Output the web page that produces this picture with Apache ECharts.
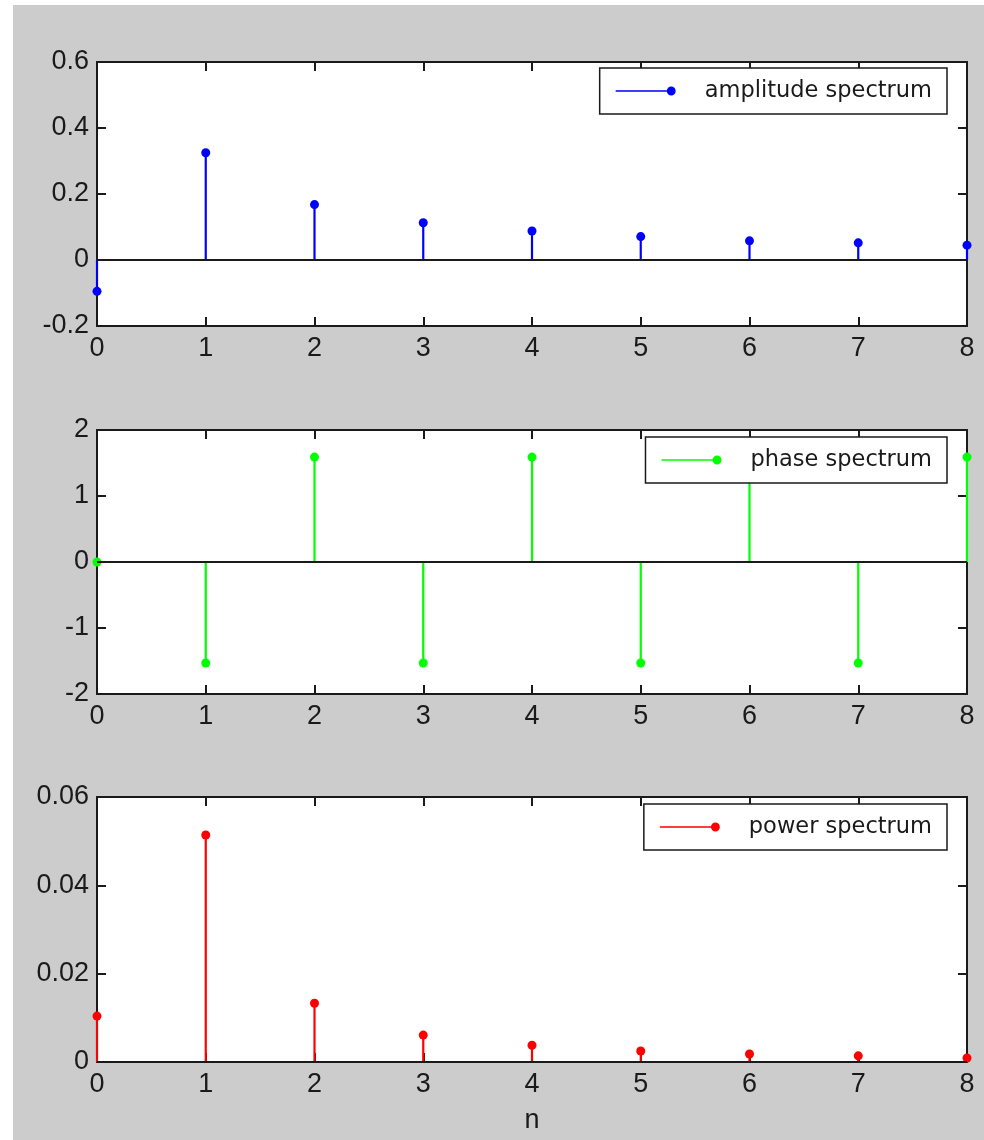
<!DOCTYPE html>
<html>
<head>
<meta charset="utf-8">
<title>amplitude / phase / power spectrum</title>
<script src="https://cdn.jsdelivr.net/npm/echarts@6/dist/echarts.min.js"></script>
<style>
  html, body { margin: 0; padding: 0; background: #fff; }
  #chart { position: absolute; left: 13px; top: 5px; width: 971px; height: 1135px; }
</style>
</head>
<body>
<div id="chart"></div>
<script>
// data
const n = [0, 1, 2, 3, 4, 5, 6, 7, 8];
const amplitude = [-0.095, 0.325, 0.168, 0.113, 0.088, 0.071, 0.058, 0.052, 0.045];
const phase = [0, -1.53, 1.59, -1.53, 1.59, -1.53, 1.59, -1.53, 1.59];
const power = [0.0104, 0.0514, 0.0133, 0.0061, 0.0038, 0.0025, 0.0018, 0.0014, 0.0009];

const panels = [
  { name: "amplitude spectrum", values: amplitude, color: "#0000ff", min: -0.2, max: 0.6, interval: 0.2 },
  { name: "phase spectrum", values: phase, color: "#00ff00", min: -2, max: 2, interval: 1 },
  { name: "power spectrum", values: power, color: "#ff0000", min: 0, max: 0.06, interval: 0.02 }
];

// layout (chart coords, the chart div sits 13px / 5px in from the page corner)
const grids = [
  { left: 84, top: 57, width: 870, height: 264 },
  { left: 84, top: 425, width: 870, height: 264 },
  { left: 84, top: 792, width: 870, height: 265 }
];
const legendTops = [63, 432, 799];

const INK = "#1a1a1a";
const tickFont = { fontFamily: "Liberation Sans", fontSize: 27, color: INK, lineHeight: 27 };
const frame = { show: true, onZero: false, lineStyle: { color: INK, width: 2 } };
const ticks = { show: true, inside: true, length: 9, lineStyle: { color: INK, width: 2 } };

function stem(color) {
  return function (params, api) {
    const x = api.value(0), y = api.value(1);
    const p0 = api.coord([x, 0]);
    const p1 = api.coord([x, y]);
    return {
      type: "group",
      children: [
        { type: "line", shape: { x1: p0[0], y1: p0[1], x2: p1[0], y2: p1[1] }, style: { stroke: color, lineWidth: 2.2 } },
        { type: "circle", shape: { cx: p1[0], cy: p1[1], r: 4.5 }, style: { fill: color } }
      ]
    };
  };
}

const xAxis = [], yAxis = [], series = [], legend = [];
panels.forEach((p, i) => {
  xAxis.push({
    type: "value", gridIndex: i, min: 0, max: 8, interval: 1, position: "bottom",
    axisLine: frame, axisTick: ticks, splitLine: { show: false },
    axisLabel: { ...tickFont, margin: 9 },
    name: i === 2 ? "n" : "", nameLocation: "middle", nameGap: 59,
    nameTextStyle: { ...tickFont, verticalAlign: "middle" }
  });
  xAxis.push({
    type: "value", gridIndex: i, min: 0, max: 8, interval: 1, position: "top",
    axisLine: frame, axisTick: ticks, splitLine: { show: false }, axisLabel: { show: false }
  });
  yAxis.push({
    type: "value", gridIndex: i, min: p.min, max: p.max, interval: p.interval, position: "left",
    axisLine: frame, axisTick: ticks, splitLine: { show: false },
    axisLabel: { ...tickFont, margin: 8 }
  });
  yAxis.push({
    type: "value", gridIndex: i, min: p.min, max: p.max, interval: p.interval, position: "right",
    axisLine: frame, axisTick: ticks, splitLine: { show: false }, axisLabel: { show: false }
  });
  series.push({
    name: p.name, type: "custom", xAxisIndex: i * 2, yAxisIndex: i * 2, clip: false,
    itemStyle: { color: p.color },
    renderItem: stem(p.color),
    data: n.map((k, j) => [k, p.values[j]]),
    markLine: {
      silent: true, symbol: "none", label: { show: false }, animation: false,
      lineStyle: { color: INK, width: 2, type: "solid" },
      data: [{ yAxis: 0 }]
    },
    z: 3
  });
  legend.push({
    data: [p.name], right: 37, top: legendTops[i],
    backgroundColor: "#fff", borderColor: INK, borderWidth: 1.5, borderRadius: 0,
    padding: [11, 15, 11, 16],
    itemWidth: 60, itemHeight: 9,
    icon: "path://M0,3.75 H56 V5.25 H0 Z M61,4.5 A4.5,4.5 0 1 1 52,4.5 A4.5,4.5 0 1 1 61,4.5 Z",
    formatter: (name) => "{gap| }" + name,
    textStyle: {
      fontFamily: "DejaVu Sans", fontSize: 22.5, color: INK, lineHeight: 24,
      rich: { gap: { width: 24 } }
    },
    selectedMode: false
  });
});

const chart = echarts.init(document.getElementById("chart"), null, { renderer: "canvas" });
chart.setOption({
  backgroundColor: "#cccccc",
  animation: false,
  grid: grids.map(g => ({ ...g, show: true, backgroundColor: "#fff", borderWidth: 0 })),
  xAxis, yAxis, series, legend
});
window.addEventListener("resize", () => chart.resize());
</script>
</body>
</html>
